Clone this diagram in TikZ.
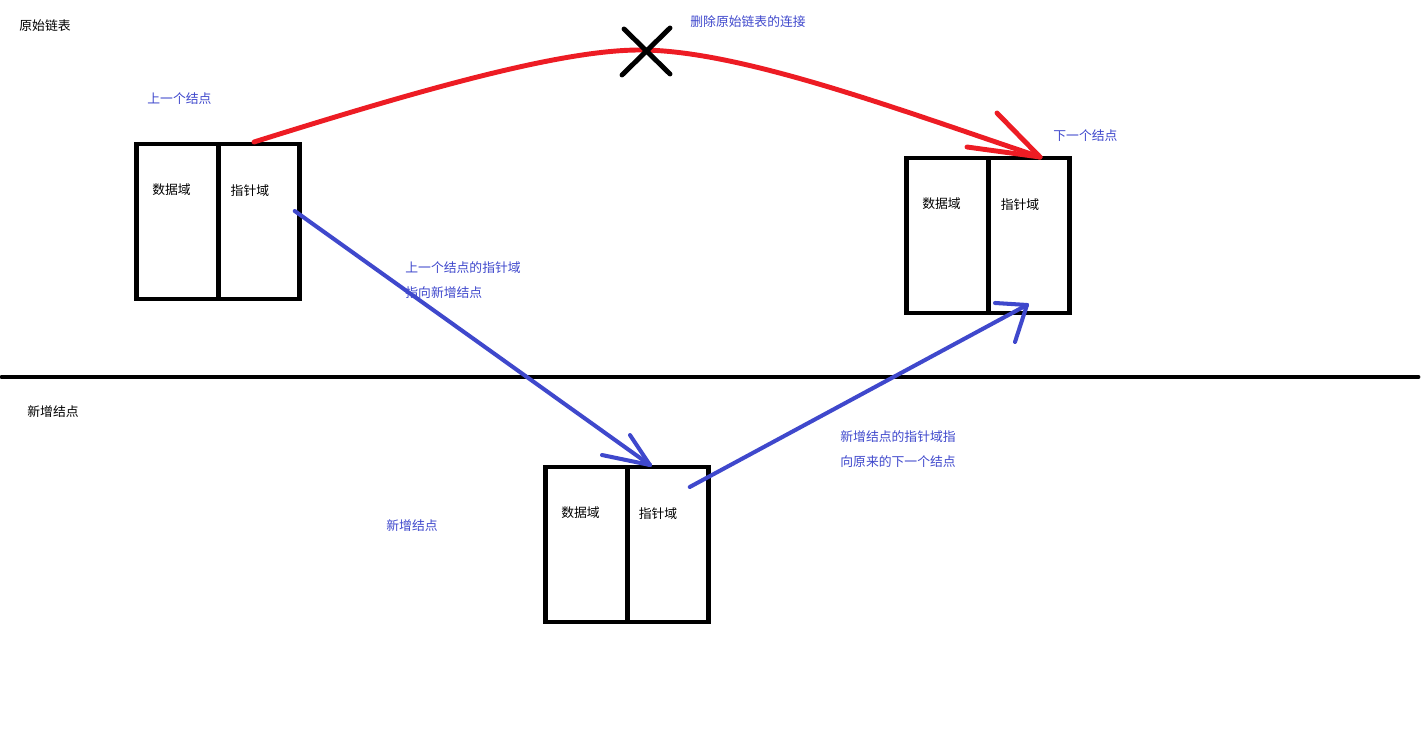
\documentclass[tikz,border=0pt]{standalone}
\usepackage{fontspec}
\setmainfont{Noto Sans CJK SC}
\usetikzlibrary{positioning,calc}
\definecolor{penred}{HTML}{ED1C24}
\definecolor{penblue}{HTML}{3F48CC}

\begin{document}
\begin{tikzpicture}[x=0.02cm, y=-0.02cm,
    field/.style={draw, line width=2.8pt, minimum width=1.63cm, minimum height=3.1cm, inner sep=0pt, outer sep=0pt},
    fieldtxt/.style={font=\fontsize{7.3}{9}\selectfont, inner sep=0pt},
    note/.style={font=\fontsize{7.3}{14.2}\selectfont, text=penblue, inner sep=0pt, align=left, anchor=west},
    heading/.style={font=\fontsize{7.3}{9}\selectfont, inner sep=0pt, anchor=west},
    redpen/.style={penred, line width=2.8pt, line cap=round},
    bluepen/.style={penblue, line width=2.3pt, line cap=round}
]
\useasboundingbox (0,0) rectangle (1425,732);

% previous node
\node[field] (d1) at (177.5,221.5) {};
\node[field, right=0pt of d1] (p1) {};
% next node
\node[field] (d2) at (947.5,235.5) {};
\node[field, right=0pt of d2] (p2) {};
% new node
\node[field] (d3) at (586.5,544.5) {};
\node[field, right=0pt of d3] (p3) {};

\node[fieldtxt] at ($(d1.north)+(-6,46)$) {数据域};
\node[fieldtxt] at ($(p1.north)+(-9,47)$) {指针域};
\node[fieldtxt] at ($(d2.north)+(-6,46)$) {数据域};
\node[fieldtxt] at ($(p2.north)+(-9,47)$) {指针域};
\node[fieldtxt] at ($(d3.north)+(-6,46)$) {数据域};
\node[fieldtxt] at ($(p3.north)+(-10,47)$) {指针域};

\node[heading] (hold) at (19,26) {原始链表};
\node[heading] (hnew) at (27,412) {新增结点};
\node[note] (lprev) at (147,99) {上一个结点};
\node[note] (lnext) at (1053,136) {下一个结点};
\node[note] (lcut) at (690,22) {删除原始链表的连接};
\node[note] (lnew) at (386,526) {新增结点};
\node[note] (lstep1) at (405,280.5) {上一个结点的指针域\\指向新增结点};
\node[note] (lstep2) at (840,449.5) {新增结点的指针域指\\向原来的下一个结点};

% dividing line
\draw[line width=2.8pt, line cap=round] (2,377) -- (1418,377);

% old link
\coordinate (r1) at ($(p1.north)+(-5,-2)$);
\coordinate (r2) at ($(p2.north)+(11,-1)$);
\coordinate (cut) at (640,50);
\draw[redpen] (r1) .. controls (420,90) and (560,50) .. (cut)
    .. controls (740,50) and (900,110) .. (r2);
\draw[redpen] (r2) -- ++(-43,-44);
\draw[redpen] (r2) -- ++(-73,-10);
\draw[line width=2.8pt, line cap=round] (624,29) -- (670,74) (670,28) -- (622,75);

% new links
\coordinate (b1) at ($(p1.east)+(-5,-10.5)$);
\coordinate (b2) at ($(p3.north)+(-18,-2)$);
\draw[bluepen] (b1) -- (b2);
\draw[bluepen] (b2) -- ++(-20,-30);
\draw[bluepen] (b2) -- ++(-48,-10);

\coordinate (b3) at ($(p3.east)+(-19,-57.5)$);
\coordinate (b4) at ($(p2.south)+(-2,-8)$);
\draw[bluepen] (b3) -- (b4);
\draw[bluepen] (b4) -- ++(-32,-2);
\draw[bluepen] (b4) -- ++(-12,37);
\end{tikzpicture}
\end{document}
